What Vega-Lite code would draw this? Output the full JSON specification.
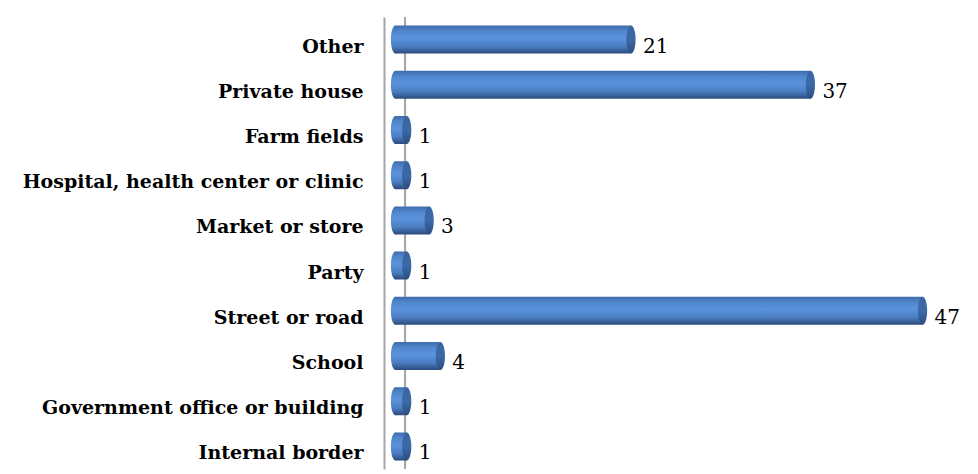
{
  "$schema": "https://vega.github.io/schema/vega-lite/v6.json",
  "width": 589,
  "height": 452,
  "padding": {"left": 0, "top": 16, "right": 5, "bottom": 6},
  "autosize": {"type": "pad"},
  "background": "white",
  "config": {"view": {"stroke": null}},
  "data": {
    "values": [
      {"place": "Other", "count": 21},
      {"place": "Private house", "count": 37},
      {"place": "Farm fields", "count": 1},
      {"place": "Hospital, health center or clinic", "count": 1},
      {"place": "Market or store", "count": 3},
      {"place": "Party", "count": 1},
      {"place": "Street or road", "count": 47},
      {"place": "School", "count": 4},
      {"place": "Government office or building", "count": 1},
      {"place": "Internal border", "count": 1}
    ]
  },
  "encoding": {
    "y": {
      "field": "place",
      "type": "nominal",
      "sort": null,
      "title": null,
      "scale": {"paddingInner": 0.38, "paddingOuter": 0.19},
      "axis": {
        "ticks": false,
        "domainColor": "#A6A6A6",
        "domainWidth": 2,
        "labelFont": "DejaVu Serif",
        "labelFontWeight": "bold",
        "labelFontSize": 19,
        "labelColor": "#000000",
        "labelPadding": 21,
        "labelOffset": 7,
        "labelLimit": 400,
        "minExtent": 384,
        "maxExtent": 384
      }
    }
  },
  "layer": [
    {
      "mark": {"type": "rule", "color": "#A6A6A6", "strokeWidth": 2},
      "encoding": {
        "y": null,
        "x": {"datum": 0.85, "type": "quantitative", "scale": {"domain": [-1.024, 51.5], "zero": false, "nice": false}, "axis": null}
      }
    },
    {
      "mark": {
        "type": "point",
        "shape": "M0,-1A0.33,1 0 1,1 0,1A0.33,1 0 1,1 0,-1Z",
        "size": 784,
        "filled": true,
        "opacity": 1,
        "color": {"gradient": "linear", "x1": 0, "y1": 0, "x2": 0, "y2": 1,
          "stops": [
            {"offset": 0, "color": "#3F6CAC"},
            {"offset": 0.2, "color": "#5086CC"},
            {"offset": 0.45, "color": "#5B93DC"},
            {"offset": 0.75, "color": "#4A7CC0"},
            {"offset": 1, "color": "#2B4A7A"}
          ]}
      },
      "encoding": {
        "x": {"datum": 0, "type": "quantitative"}
      }
    },
    {
      "mark": {
        "type": "bar",
        "color": {"gradient": "linear", "x1": 0, "y1": 0, "x2": 0, "y2": 1,
          "stops": [
            {"offset": 0, "color": "#3F6CAC"},
            {"offset": 0.2, "color": "#5086CC"},
            {"offset": 0.45, "color": "#5B93DC"},
            {"offset": 0.75, "color": "#4A7CC0"},
            {"offset": 1, "color": "#2B4A7A"}
          ]}
      },
      "encoding": {
        "x": {"field": "count", "type": "quantitative"}
      }
    },
    {
      "mark": {
        "type": "point",
        "shape": "M0,-1A0.33,1 0 1,1 0,1A0.33,1 0 1,1 0,-1Z",
        "size": 784,
        "filled": true,
        "opacity": 1,
        "color": {"gradient": "linear", "x1": 0, "y1": 0, "x2": 0, "y2": 1,
          "stops": [
            {"offset": 0, "color": "#3A64A0"},
            {"offset": 0.5, "color": "#3C6AA8"},
            {"offset": 1, "color": "#2C4D80"}
          ]}
      },
      "encoding": {
        "x": {"field": "count", "type": "quantitative"}
      }
    },
    {
      "mark": {"type": "text", "align": "left", "baseline": "middle", "dx": 12, "dy": 7, "font": "DejaVu Serif", "fontSize": 20, "color": "#000000"},
      "encoding": {
        "x": {"field": "count", "type": "quantitative"},
        "text": {"field": "count", "type": "quantitative"}
      }
    }
  ]
}
